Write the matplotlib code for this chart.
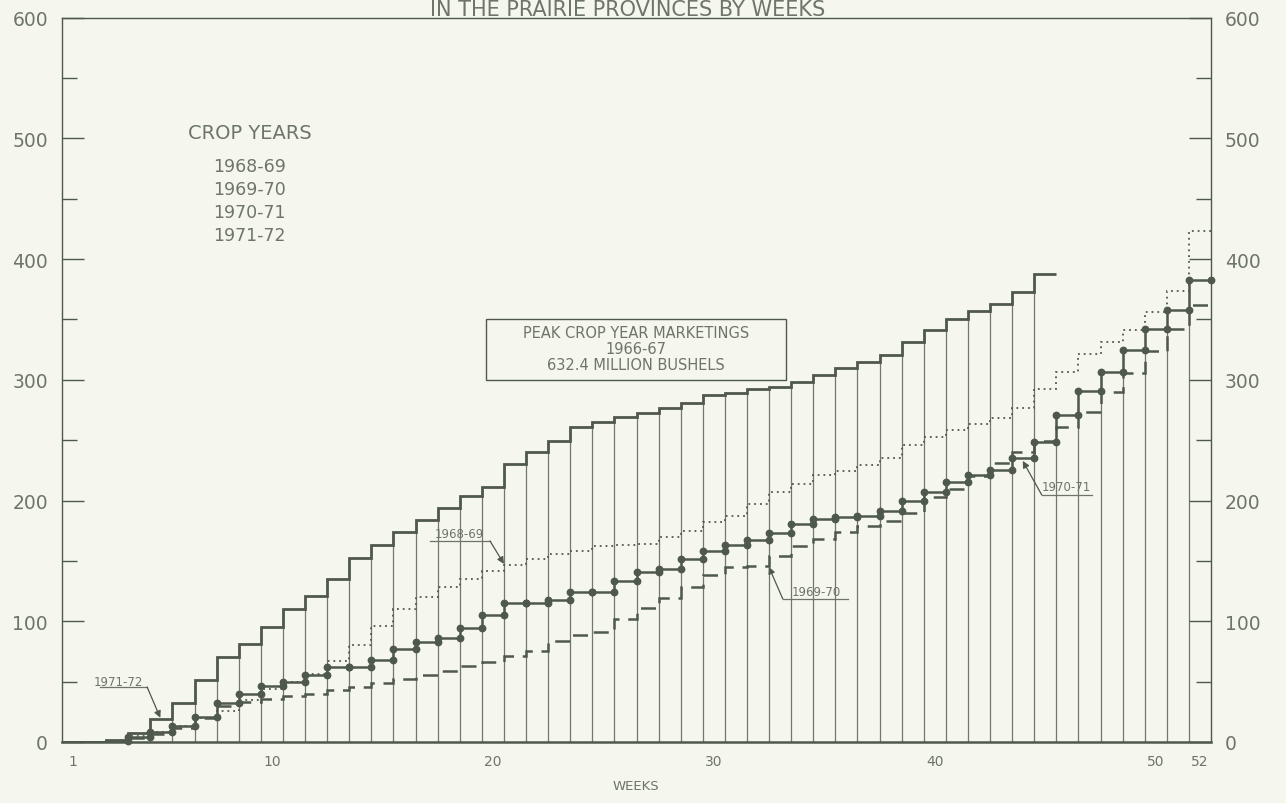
import numpy as np
import matplotlib
matplotlib.use('Agg')
import matplotlib.pyplot as plt
from matplotlib.patches import Rectangle

# cumulative marketings (million bushels), weeks 1..52
weeks = np.arange(1, 53)

crop_1968_69 = [0, 0, 0.5, 5, 8, 13, 20, 26, 35, 44, 50, 56, 67, 80, 96, 110,
                120, 128, 135, 142, 146.6, 151.6, 155.8, 158.5, 162, 163, 164,
                169.6, 175, 182.5, 187.5, 197, 207, 213.7, 221, 224.8, 229, 235,
                246, 253, 258, 263.5, 268, 276.5, 292, 306.8, 321.5, 331.5,
                341.5, 356, 373.5, 423]
crop_1969_70 = [0, 0, 0.5, 3, 7, 12, 20, 30, 33.5, 36, 38, 40, 43, 45.5, 49,
                52.5, 55.5, 59, 63, 66, 71.5, 75.5, 84, 88.5, 91.5, 102, 111,
                119, 128, 138, 145, 145.5, 154, 162.6, 168, 173.7, 178.5, 183,
                189.5, 202.7, 209.6, 220.6, 231, 240, 249, 260.7, 273, 290, 306,
                323.4, 342, 361.5]
crop_1970_71 = [0, 0, 1, 4, 8.5, 13.5, 21, 32, 40, 46, 50, 55.5, 62, 62, 68,
                77, 82.5, 86.5, 94, 105, 115, 115.5, 118, 124, 124, 133.6,
                140.6, 143, 151.6, 158.5, 163, 167, 173, 180.6, 185, 186, 187.5,
                191.6, 199.5, 207.4, 215, 221, 225.6, 235, 248.8, 271, 291,
                306.8, 325, 342, 358, 383]
# current year, only 45 weeks reported
crop_1971_72 = [0, 0, 1.5, 7.5, 19, 32, 51, 70, 81, 95.5, 110, 121, 135, 152,
                163, 174, 184, 194, 203.5, 211.5, 230, 240, 249, 260.7, 265,
                269, 272.6, 277, 281, 287.5, 289, 292.5, 294, 298.5, 304, 309.6,
                315, 320.6, 331.6, 340.8, 350.5, 357, 363, 372.6, 387.7]

title = 'IN THE PRAIRIE PROVINCES BY WEEKS'
legend_years = ['1968-69', '1969-70', '1970-71', '1971-72']
box_lines = ['PEAK CROP YEAR MARKETINGS', '1966-67', '632.4 MILLION BUSHELS']
xticks = [1, 10, 20, 30, 40, 50, 52]

bg = '#f5f6ee'
ink = '#4f584d'
txt = '#6d756a'

fig = plt.figure(figsize=(12.86, 8.04), dpi=100, facecolor=bg)
ax = fig.add_axes([62/1286, 61/804, 1149/1286, 724.5/804], facecolor=bg)

edges = np.append(weeks - 0.5, 52.5)
n71 = len(crop_1971_72)

# bar outlines: vertical line at the left edge of each week
bar_h = list(crop_1971_72) + list(crop_1970_71[n71:])
ax.vlines(weeks - 0.5, 0, bar_h, color=ink, lw=0.9, alpha=0.8, zorder=1)

ax.stairs(crop_1971_72, edges[:n71 + 1], baseline=None, color=ink, lw=2.0, zorder=3)
ax.stairs(crop_1968_69, edges, baseline=None, color=ink, lw=1.3,
          linestyle=(0, (1, 2.2)), zorder=2)
ax.stairs(crop_1969_70, edges, baseline=None, color=ink, lw=1.8,
          linestyle=(0, (6, 3.5)), zorder=2)
ax.stairs(crop_1970_71, edges, baseline=None, color=ink, lw=1.8, zorder=4)

# dots at the corners of the 1970-71 steps
v = np.array(crop_1970_71)
dx, dy = [], []
for i in range(3, 52):
    dx += [weeks[i] - 0.5, weeks[i] - 0.5]
    dy += [v[i - 1], v[i]]
dx.append(52.5)
dy.append(v[-1])
ax.plot(dx, dy, 'o', color=ink, ms=4.6, zorder=5, clip_on=False)

ax.set_xlim(0.5, 52.5)
ax.set_ylim(0, 600)
ax.set_xticks(xticks)
ax.set_yticks(range(0, 601, 100))
ax.set_yticks(range(50, 600, 100), minor=True)
ax.tick_params(axis='x', length=0, pad=9, labelsize=10, labelcolor=txt)
ax.tick_params(axis='y', which='major', direction='in', length=16, width=1,
               color=ink, left=True, right=True, labelleft=True,
               labelright=True, labelsize=13.5, labelcolor=txt, pad=10)
ax.tick_params(axis='y', which='minor', direction='in', length=11, width=1,
               color=ink, left=True, right=True)
for s in ax.spines.values():
    s.set_color(ink)
    s.set_linewidth(1.0)
ax.spines['bottom'].set_linewidth(1.8)

# legend text (line samples have faded on the original)
ax.text(6.2, 505, 'CROP YEARS', fontsize=14, color=txt, va='center', ha='left')
for lab, yy in zip(legend_years, [477, 458, 439, 419.5]):
    ax.text(7.33, yy, lab, fontsize=12.5, color=txt, va='center', ha='left')

# peak year box
ax.add_patch(Rectangle((19.69, 300), 13.57, 50, fill=False, ec=ink, lw=1.0, zorder=6))
for lab, yy in zip(box_lines, [338.8, 325.6, 312.3]):
    ax.text(26.47, yy, lab, fontsize=10.5, color=txt, ha='center', va='center', zorder=6)

# series labels with arrows
def callout(label, tx, ty, ux0, ux1, uy, tip):
    ax.text(tx, ty, label, fontsize=8.5, color=txt, ha='center', va='center')
    ax.plot([ux0, ux1], [uy, uy], color=txt, lw=0.9)
    sx = ux1 if tip[0] > ux1 else ux0
    ax.annotate('', xy=tip, xytext=(sx, uy),
                arrowprops=dict(arrowstyle='-|>', color=ink, lw=0.9,
                                mutation_scale=10, shrinkA=0, shrinkB=0))

callout('1971-72', 3.03, 50.5, 2.22, 4.35, 45.6, (4.95, 20))
callout('1968-69', 18.5, 172.3, 17.15, 19.87, 166.5, (20.5, 147.5))
callout('1969-70', 34.62, 124.3, 33.12, 36.07, 118.5, (32.49, 145))
callout('1970-71', 45.93, 211.3, 44.84, 47.1, 204.6, (43.98, 232.8))

# title sits at the very top edge, as on the scanned page
fig.text(628/1286, 1 - 16/804, title, fontsize=15, color=txt,
         ha='center', va='baseline')
fig.text(636/1286, 17/804, 'WEEKS', fontsize=9.5, color=txt,
         ha='center', va='center')

fig.savefig('out.png', dpi=100, facecolor=bg)
